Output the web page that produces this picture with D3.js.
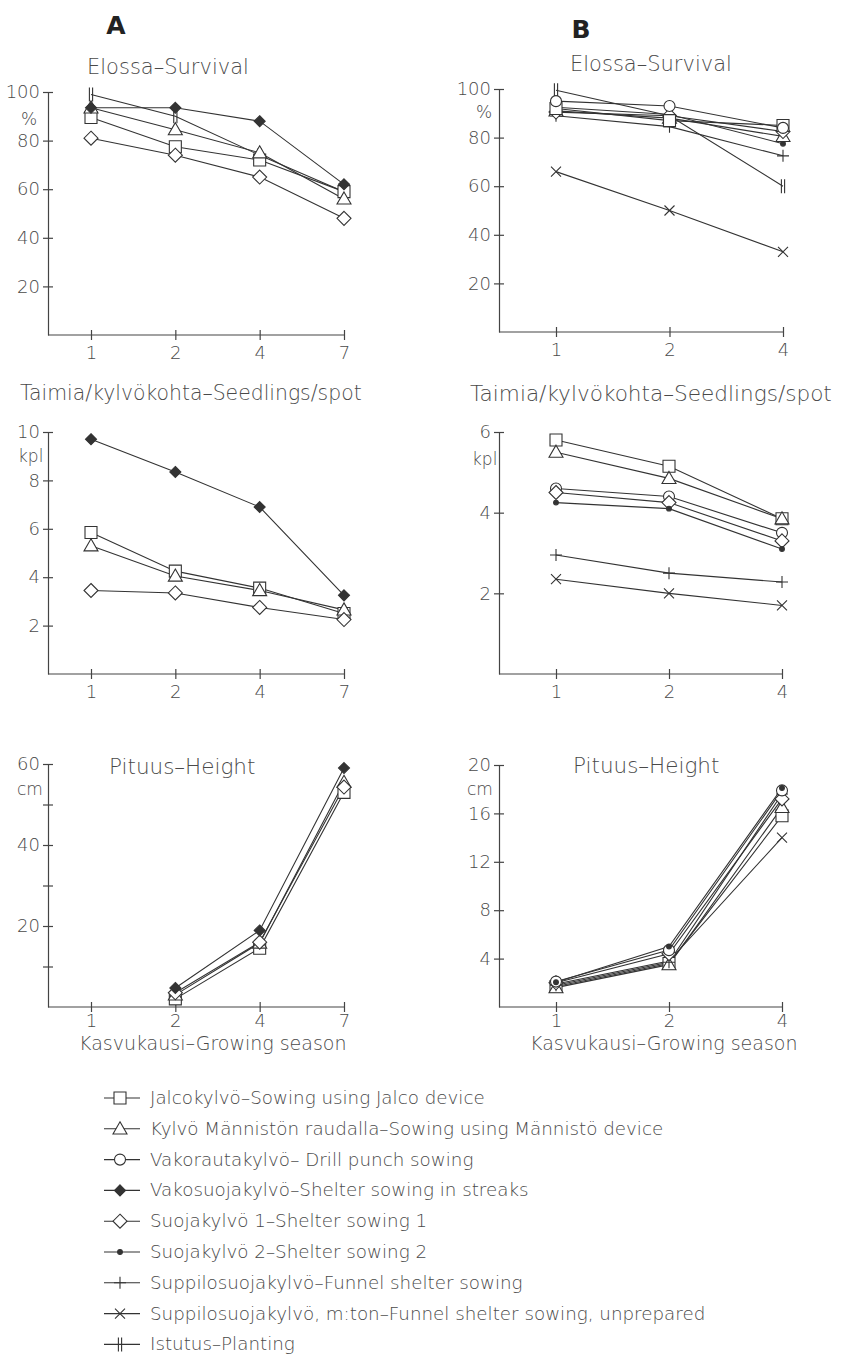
<!DOCTYPE html>
<html>
<head>
<meta charset="utf-8">
<script src="https://cdn.jsdelivr.net/npm/d3@7"></script>
<style>
  body { margin: 0; background: #fff; }
  svg text { font-family: "DejaVu Sans", "Noto Sans", sans-serif; font-weight: 200; fill: #4a4a4a; }
  .hdr { font-weight: 600; fill: #222; }
</style>
</head>
<body>
<svg id="fig" width="844" height="1360"></svg>
<script>
// Growing seasons measured in each experiment
const seasonsA = ["1", "2", "4", "7"];
const seasonsB = ["1", "2", "4"];

// Sowing / planting methods: key, legend text, marker
const methodKeys = ["jalco", "mannisto", "vakorauta", "vakosuoja", "suoja1", "suoja2", "suppilo", "suppiloMton", "istutus"];
const methodLabels = [
  "Jalcokylvö–Sowing using Jalco device",
  "Kylvö Männistön raudalla–Sowing using Männistö device",
  "Vakorautakylvö– Drill punch sowing",
  "Vakosuojakylvö–Shelter sowing in streaks",
  "Suojakylvö 1–Shelter sowing 1",
  "Suojakylvö 2–Shelter sowing 2",
  "Suppilosuojakylvö–Funnel shelter sowing",
  "Suppilosuojakylvö, m:ton–Funnel shelter sowing, unprepared",
  "Istutus–Planting"
];

// Experiment A
const survivalA = [
  { key: "istutus",   values: [99, 90, 74, 59] },
  { key: "jalco",     values: [89.5, 77.5, 72, 59] },
  { key: "mannisto",  values: [93.5, 84.5, 75, 56] },
  { key: "suoja1",    values: [81, 74, 65, 48] },
  { key: "vakosuoja", values: [93.5, 93.5, 88, 62] }
];
const seedlingsA = [
  { key: "jalco",     values: [5.85, 4.25, 3.55, 2.5] },
  { key: "mannisto",  values: [5.3, 4.05, 3.45, 2.65] },
  { key: "suoja1",    values: [3.45, 3.35, 2.75, 2.25] },
  { key: "vakosuoja", values: [9.7, 8.35, 6.9, 3.25] }
];
const heightA = [
  { key: "jalco",     values: [null, 2, 14.5, 53] },
  { key: "mannisto",  values: [null, 3, 15.8, 55.5] },
  { key: "suoja1",    values: [null, 3.5, 16, 54.3] },
  { key: "vakosuoja", values: [null, 4.7, 18.9, 59] }
];

// Experiment B
const survivalB = [
  { key: "suppiloMton", values: [66, 50, 33] },
  { key: "istutus",     values: [99.5, 89, 60] },
  { key: "suppilo",     values: [89, 84.5, 72.5] },
  { key: "suoja2",      values: [92.5, 89.5, 77.5] },
  { key: "mannisto",    values: [91, 88, 80.5] },
  { key: "suoja1",      values: [90.5, 89, 82.5] },
  { key: "jalco",       values: [92, 87, 85] },
  { key: "vakorauta",   values: [95, 93, 84] }
];
const seedlingsB = [
  { key: "jalco",       values: [5.8, 5.15, 3.85] },
  { key: "mannisto",    values: [5.5, 4.85, 3.85] },
  { key: "vakorauta",   values: [4.6, 4.4, 3.5] },
  { key: "suoja1",      values: [4.5, 4.25, 3.3] },
  { key: "suoja2",      values: [4.25, 4.1, 3.1] },
  { key: "suppilo",     values: [2.95, 2.5, 2.28] },
  { key: "suppiloMton", values: [2.35, 2.0, 1.7] }
];
const heightB = [
  { key: "suppiloMton", values: [1.9, 3.8, 14.0] },
  { key: "jalco",       values: [1.7, 3.6, 15.8] },
  { key: "mannisto",    values: [1.6, 3.5, 16.5] },
  { key: "suppilo",     values: [1.8, 3.7, 17.6] },
  { key: "suoja1",      values: [2.0, 4.4, 17.2] },
  { key: "vakorauta",   values: [2.1, 4.7, 17.9] },
  { key: "suoja2",      values: [2.05, 5.0, 18.1] }
];

// Axis ticks
const ticksSurvival = [20, 40, 60, 80, 100];
const ticksSeedA = [2, 4, 6, 8, 10];
const ticksSeedB = [2, 4, 6];
const ticksHeightA = [20, 40, 60];
const minorHeightA = [10, 30, 50];
const ticksHeightB = [4, 8, 12, 16, 20];

// ---- marker shapes (custom d3.symbol types; size = half-extent) ----
const open = "#fff", ink = "#333";
const shapes = {
  jalco: { fill: open, type: { draw(c, s) { c.rect(-s, -s, 2 * s, 2 * s); } }, size: 6 },
  mannisto: { fill: open, type: { draw(c, s) { const h = s * Math.sqrt(3) / 2; c.moveTo(0, -h * 1.15); c.lineTo(s, h * 0.85); c.lineTo(-s, h * 0.85); c.closePath(); } }, size: 7 },
  vakorauta: { fill: open, type: { draw(c, s) { c.moveTo(s, 0); c.arc(0, 0, s, 0, 2 * Math.PI); } }, size: 5.5 },
  vakosuoja: { fill: ink, type: { draw(c, s) { c.moveTo(0, -s); c.lineTo(s, 0); c.lineTo(0, s); c.lineTo(-s, 0); c.closePath(); } }, size: 5.5 },
  suoja1: { fill: open, type: { draw(c, s) { c.moveTo(0, -s); c.lineTo(s, 0); c.lineTo(0, s); c.lineTo(-s, 0); c.closePath(); } }, size: 7 },
  suoja2: { fill: ink, type: { draw(c, s) { c.moveTo(s, 0); c.arc(0, 0, s, 0, 2 * Math.PI); } }, size: 2.4 },
  suppilo: { fill: "none", type: { draw(c, s) { c.moveTo(-s, 0); c.lineTo(s, 0); c.moveTo(0, -s); c.lineTo(0, s); } }, size: 6 },
  suppiloMton: { fill: "none", type: { draw(c, s) { c.moveTo(-s, -s); c.lineTo(s, s); c.moveTo(-s, s); c.lineTo(s, -s); } }, size: 5 },
  istutus: { fill: "none", type: { draw(c, s) { c.moveTo(-1.6, -s); c.lineTo(-1.6, s); c.moveTo(1.6, -s); c.lineTo(1.6, s); } }, size: 7 }
};
function markerPath(key) {
  const m = shapes[key];
  return d3.symbol().type(m.type).size(m.size)();
}

const svg = d3.select("#fig");

function drawPanel(opt) {
  const g = svg.append("g");
  const x = d3.scalePoint().domain(opt.seasons).range(opt.xRange);
  const y = d3.scaleLinear().domain(opt.yDomain).range(opt.yRange);
  const bottom = opt.yRange[0];

  // y axis with ticks crossing the axis line
  g.append("g").attr("transform", `translate(${opt.axisX},0)`)
    .call(d3.axisLeft(y).tickValues(opt.ticks).tickFormat(d3.format("~g"))
      .tickSizeInner(5).tickSizeOuter(0).tickPadding(3));
  if (opt.minor) {
    g.append("g").attr("transform", `translate(${opt.axisX},0)`)
      .call(d3.axisLeft(y).tickValues(opt.minor).tickSizeInner(5).tickSizeOuter(0).tickFormat(""))
      .call(a => a.select(".domain").remove());
  }
  // x axis
  const xa = g.append("g").attr("transform", `translate(0,${bottom})`)
    .call(d3.axisBottom(x).tickSizeInner(5).tickSizeOuter(0).tickPadding(opt.xPad || 6));
  xa.select(".domain").remove();
  g.append("line")
    .attr("x1", opt.axisX).attr("x2", x(opt.seasons[opt.seasons.length - 1]))
    .attr("y1", bottom).attr("y2", bottom)
    .attr("stroke", "#444").attr("stroke-width", 1.2);

  g.selectAll(".tick line").attr("stroke", "#444").attr("stroke-width", 1.2)
    .each(function () {
      const l = d3.select(this);
      if (l.attr("x2") !== null && +l.attr("x2") !== 0) l.attr("x1", 5);
      if (l.attr("y2") !== null && +l.attr("y2") !== 0) l.attr("y1", -5);
    });
  g.selectAll(".domain").attr("stroke", "#444").attr("stroke-width", 1.2);
  g.selectAll(".tick text").attr("font-size", 18).style("font-family", null).style("fill", "#4a4a4a");

  // series lines
  const line = d3.line()
    .defined(d => d.v !== null)
    .x(d => x(d.s)).y(d => y(d.v));
  opt.data.forEach(sr => {
    const pts = sr.values.map((v, i) => ({ s: opt.seasons[i], v }));
    g.append("path").datum(pts)
      .attr("d", line).attr("fill", "none")
      .attr("stroke", "#333").attr("stroke-width", 1.1);
  });
  // markers
  opt.data.forEach(sr => {
    const pts = sr.values.map((v, i) => ({ s: opt.seasons[i], v })).filter(d => d.v !== null);
    g.selectAll(null).data(pts).join("path")
      .attr("transform", d => `translate(${x(d.s)},${y(d.v)})`)
      .attr("d", markerPath(sr.key))
      .attr("fill", shapes[sr.key].fill)
      .attr("stroke", "#333").attr("stroke-width", 1.1);
  });

  // titles and units
  g.append("text").attr("x", opt.titleX).attr("y", opt.titleY)
    .attr("font-size", opt.titleSize).text(opt.title);
  g.append("text").attr("x", opt.unitX).attr("y", opt.unitY)
    .attr("font-size", 17).text(opt.unit);
  if (opt.xlabel) {
    g.append("text").attr("x", opt.xlabelX).attr("y", opt.xlabelY)
      .attr("font-size", 19).text(opt.xlabel);
  }
}

// panel letters
svg.append("text").attr("class", "hdr").attr("x", 116).attr("y", 34)
  .attr("text-anchor", "middle").attr("font-size", 25).text("A");
svg.append("text").attr("class", "hdr").attr("x", 581).attr("y", 38)
  .attr("text-anchor", "middle").attr("font-size", 25).text("B");

// Column A
drawPanel({ seasons: seasonsA, data: survivalA, xRange: [91, 344], axisX: 48,
  yDomain: [0, 100], yRange: [335, 92], ticks: ticksSurvival,
  title: "Elossa–Survival", titleX: 87, titleY: 74, titleSize: 21, unit: "%", unitX: 21, unitY: 125 });
drawPanel({ seasons: seasonsA, data: seedlingsA, xRange: [91, 344], axisX: 48,
  yDomain: [0, 10], yRange: [674, 432], ticks: ticksSeedA,
  title: "Taimia/kylvökohta–Seedlings/spot", titleX: 20, titleY: 400, titleSize: 20.4, unit: "kpl", unitX: 18, unitY: 462 });
drawPanel({ seasons: seasonsA, data: heightA, xRange: [91, 344], axisX: 48,
  yDomain: [0, 60], yRange: [1007, 764], ticks: ticksHeightA, minor: minorHeightA, xPad: 2,
  title: "Pituus–Height", titleX: 109, titleY: 774, titleSize: 21.5, unit: "cm", unitX: 17, unitY: 795,
  xlabel: "Kasvukausi–Growing season", xlabelX: 79, xlabelY: 1050 });

// Column B
drawPanel({ seasons: seasonsB, data: survivalB, xRange: [556, 783], axisX: 499,
  yDomain: [0, 100], yRange: [332, 89], ticks: ticksSurvival,
  title: "Elossa–Survival", titleX: 570, titleY: 71, titleSize: 21, unit: "%", unitX: 476, unitY: 118 });
drawPanel({ seasons: seasonsB, data: seedlingsB, xRange: [556, 782], axisX: 499,
  yDomain: [0, 6], yRange: [674, 432], ticks: ticksSeedB,
  title: "Taimia/kylvökohta–Seedlings/spot", titleX: 470, titleY: 401, titleSize: 21.6, unit: "kpl", unitX: 472, unitY: 465 });
drawPanel({ seasons: seasonsB, data: heightB, xRange: [556, 782], axisX: 499,
  yDomain: [0, 20], yRange: [1007, 765], ticks: ticksHeightB, xPad: 2,
  title: "Pituus–Height", titleX: 573, titleY: 773, titleSize: 21.5, unit: "cm", unitX: 467, unitY: 795,
  xlabel: "Kasvukausi–Growing season", xlabelX: 530, xlabelY: 1050 });

// Legend
const legend = svg.append("g");
methodKeys.forEach((k, i) => {
  const yy = 1098 + i * 30.8;
  const row = legend.append("g").attr("transform", `translate(0,${yy})`);
  row.append("line").attr("x1", 104).attr("x2", 140).attr("y1", 0).attr("y2", 0)
    .attr("stroke", "#333").attr("stroke-width", 1.1);
  row.append("path").attr("transform", "translate(120,0)")
    .attr("d", markerPath(k)).attr("fill", shapes[k].fill)
    .attr("stroke", "#333").attr("stroke-width", 1.1);
  row.append("text").attr("x", 150).attr("y", 6).attr("font-size", 18.3).text(methodLabels[i]);
});
</script>
</body>
</html>
